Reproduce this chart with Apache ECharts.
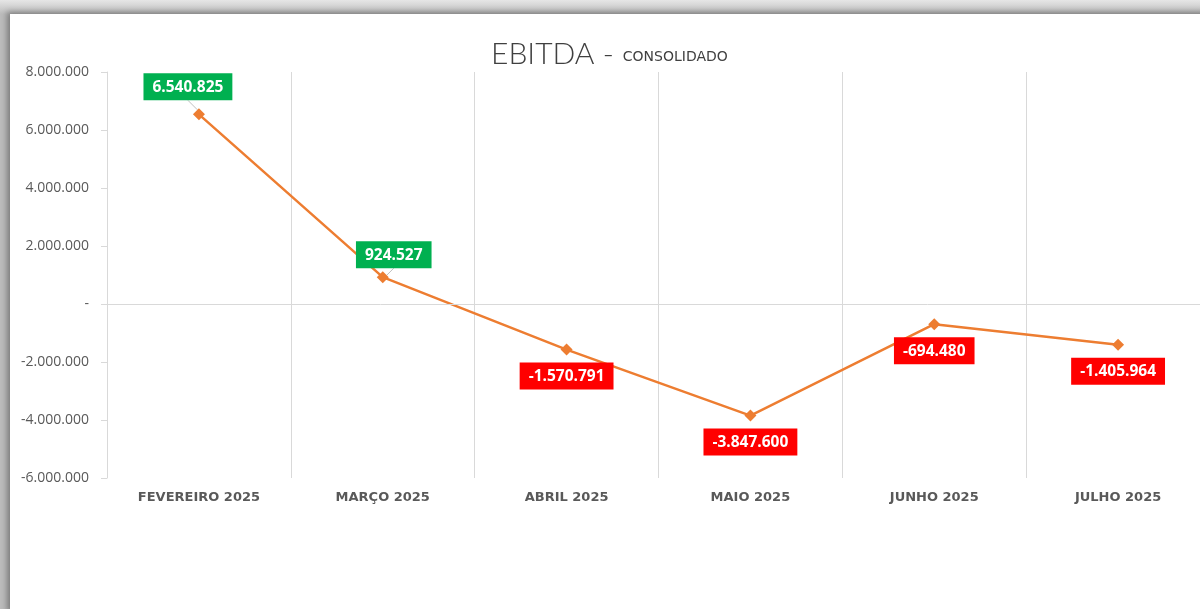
<!DOCTYPE html>
<html>
<head>
<meta charset="utf-8">
<script src="https://cdn.jsdelivr.net/npm/echarts@6/dist/echarts.min.js"></script>
<style>
  html, body { margin: 0; padding: 0; width: 1200px; height: 609px; overflow: hidden; }
  body { background: linear-gradient(#e6e6e6, #bcbcbc 14px); position: relative; }
  .card {
    position: absolute; left: 10px; top: 14px; width: 1200px; height: 600px;
    background: #fff;
    box-shadow: -3px -2px 6px rgba(0,0,0,0.35);
  }
  #chart { position: absolute; left: 0; top: 0; width: 1200px; height: 609px; }
</style>
</head>
<body>
<div class="card"></div>
<div id="chart"></div>
<script>
// dados do gráfico
const meses = ["FEVEREIRO 2025", "MARÇO 2025", "ABRIL 2025", "MAIO 2025", "JUNHO 2025", "JULHO 2025"]
const ebitda = [6540825, 924527, -1570791, -3847600, -694480, -1405964]
const eixoY = { min: -6000000, max: 8000000, interval: 2000000 }

function fmt(v) {
  if (v === 0) return "-"
  let s = Math.abs(v).toString().replace(/\B(?=(\d{3})+(?!\d))/g, ".")
  return (v < 0 ? "-" : "") + s
}

// deslocamento horizontal dos rótulos (px)
const labelDx = [-11, 11, 0, 0, 0, 0]

let myChart = echarts.init(document.getElementById("chart"))
let option = {
  animation: false,
  title: {
    text: "{a|EBITDA -} {b|CONSOLIDADO}",
    left: 486,
    top: 34,
    textStyle: {
      rich: {
        a: { fontFamily: "Lato", fontWeight: 300, fontSize: 30, color: "#404040" },
        b: { fontFamily: "DejaVu Sans", fontWeight: 400, fontSize: 14, color: "#404040", padding: [6, 0, 0, 4] }
      }
    }
  },
  grid: { left: 107, top: 72, right: -10, bottom: 131, outerBoundsMode: "none", containLabel: false },
  xAxis: {
    type: "category",
    data: meses,
    boundaryGap: true,
    position: "bottom",
    axisLine: { show: false, onZero: false },
    axisTick: { show: false },
    splitLine: { show: true, lineStyle: { color: "#d9d9d9", width: 1 } },
    axisLabel: {
      margin: 13,
      color: "#595959",
      fontFamily: "DejaVu Sans",
      fontWeight: "bold",
      fontSize: 13
    }
  },
  yAxis: {
    type: "value",
    min: eixoY.min,
    max: eixoY.max,
    interval: eixoY.interval,
    axisLine: { show: true, lineStyle: { color: "#d9d9d9" } },
    axisTick: { show: true, length: 6, lineStyle: { color: "#d9d9d9" } },
    splitLine: { show: false },
    axisLabel: {
      formatter: fmt,
      color: "#595959",
      fontFamily: "Open Sans",
      fontSize: 14,
      margin: 18
    }
  },
  series: [{
    type: "line",
    data: ebitda.map((v, i) => ({
      value: v,
      label: {
        position: v >= 0 ? "top" : "bottom",
        distance: v >= 0 ? (i === 0 ? 8 : 3) : 7,
        backgroundColor: v >= 0 ? "#00b050" : "#ff0000"
      },
      labelLine: { show: v >= 0 }
    })),
    symbol: "diamond",
    symbolSize: 12,
    itemStyle: { color: "#ed7d31" },
    lineStyle: { color: "#ed7d31", width: 2.5 },
    label: {
      show: true,
      formatter: p => fmt(p.value),
      color: "#fff",
      fontFamily: "Open Sans",
      fontWeight: "bold",
      fontSize: 15.5,
      padding: [6, 9, 5, 9]
    },
    labelLayout: p => ({ dx: labelDx[p.dataIndex] }),
    labelLine: { lineStyle: { color: "#bfbfbf", width: 1 } },
    markLine: {
      silent: true,
      symbol: "none",
      label: { show: false },
      lineStyle: { color: "#d9d9d9", type: "solid", width: 1 },
      data: [{ yAxis: 0 }]
    },
    z: 3
  }]
}
myChart.setOption(option)
</script>
</body>
</html>
